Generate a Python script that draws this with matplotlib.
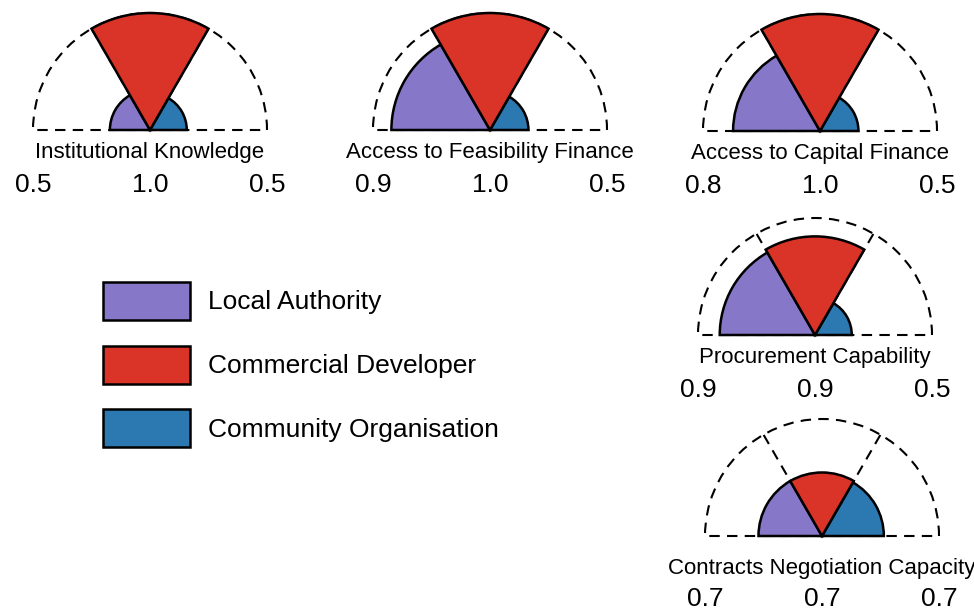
import matplotlib
matplotlib.use("Agg")
import numpy as np
import matplotlib.pyplot as plt
from matplotlib.patches import Wedge, Patch

plt.rcParams['font.family'] = ['Liberation Sans', 'DejaVu Sans']

# scores per capability (left = local authority, middle = commercial, right = community)
capabilities = ["Institutional Knowledge", "Access to Feasibility Finance",
                "Access to Capital Finance", "Procurement Capability",
                "Contracts Negotiation Capacity"]
local_authority = [0.54, 0.89, 0.82, 0.87, 0.68]
commercial_dev = [1.0, 1.0, 1.0, 0.89, 0.68]
community_org = [0.52, 0.53, 0.53, 0.52, 0.67]

series_names = ["Local Authority", "Commercial Developer", "Community Organisation"]
colors = ["#8677C8", "#D93427", "#2C78B0"]

# panel centres in pixels (x, y from top) and extra label drop
centres = [(150, 130), (490, 130), (820, 131), (815, 335), (822, 536)]
drops = [0, 0, 0, 0, 0.085]

W, H, SCALE = 974, 611, 117.0
XL, XR, YB, YT = -1.2, 1.2, -0.7, 1.12
DASH = (0, (5, 3.5))

fig = plt.figure(figsize=(W / 100, H / 100), dpi=100)


def radius(v):
    return (v - 0.3) / 0.7


for i, name in enumerate(capabilities):
    cx, cy = centres[i]
    left = (cx + XL * SCALE) / W
    bottom = (H - cy + YB * SCALE) / H
    ax = fig.add_axes([left, bottom, (XR - XL) * SCALE / W, (YT - YB) * SCALE / H])
    ax.set_xlim(XL, XR)
    ax.set_ylim(YB, YT)
    ax.axis('off')

    vals = [local_authority[i], commercial_dev[i], community_org[i]]
    angles = [(120, 180), (60, 120), (0, 60)]

    # dashed full-scale outline: half circle plus the two sector dividers
    ax.add_patch(Wedge((0, 0), 1.0, 0, 180, fill=False, ec='black',
                       lw=1.5, ls=DASH, zorder=1))
    for a in (60, 120):
        t = np.radians(a)
        ax.plot([0, np.cos(t)], [0, np.sin(t)], color='black', lw=1.5,
                ls=DASH, zorder=1)
    # filled sectors, middle one on top
    for k in [0, 2, 1]:
        a0, a1 = angles[k]
        ax.add_patch(Wedge((0, 0), radius(vals[k]), a0, a1, fc=colors[k],
                           ec='black', lw=1.8, zorder=2 + (k == 1)))

    d = drops[i]
    ax.text(0, -0.19 - d, name, ha='center', va='center', fontsize=16,
            clip_on=False)
    for x, v in zip([-1, 0, 1], vals):
        ax.text(x, -0.47 - d * 0.8, f"{v:.1f}", ha='center', va='center',
                fontsize=19, clip_on=False)

handles = [Patch(fc=c, ec='black', lw=1.8) for c in colors]
fig.legend(handles, series_names, loc='upper left',
           bbox_to_anchor=(103 / W, 1 - 282 / H), bbox_transform=fig.transFigure,
           frameon=False, fontsize=19, handlelength=3.3, handleheight=1.84,
           labelspacing=0.97, handletextpad=0.68, borderpad=0, borderaxespad=0)

fig.savefig("out.png", dpi=100)
